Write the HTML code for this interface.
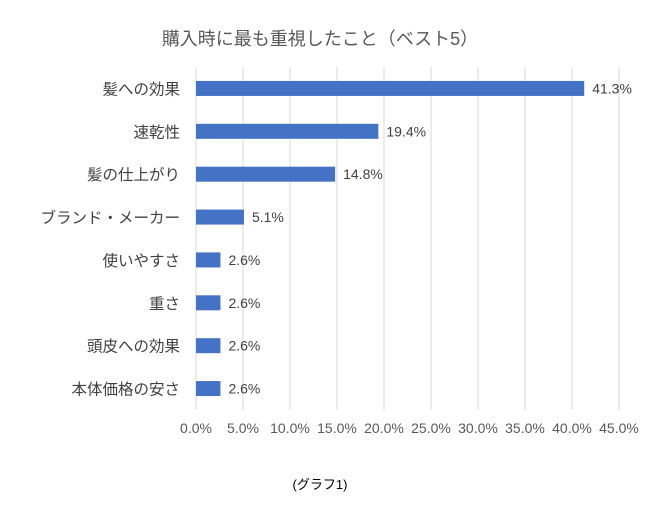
<!DOCTYPE html>
<html><head><meta charset="utf-8"><style>
body{margin:0;background:#fff;}
svg text{font-family:"Liberation Sans","Noto Sans CJK JP",sans-serif;}
</style></head><body>
<svg id="chart" width="650" height="503" xmlns="http://www.w3.org/2000/svg">
<rect width="650" height="503" fill="#fff"/>
<text x="320" y="45" text-anchor="middle" font-size="18" fill="#595959">購入時に最も重視したこと（ベスト5）</text>
<g id="grid"></g><g id="bars"></g><g id="cats"></g><g id="xticks"></g>
<text x="320" y="489" text-anchor="middle" font-size="13" fill="#000">(グラフ1)</text>
</svg>
<script>
const categories=["髪への効果","速乾性","髪の仕上がり","ブランド・メーカー","使いやすさ","重さ","頭皮への効果","本体価格の安さ"];
const values=[41.3,19.4,14.8,5.1,2.6,2.6,2.6,2.6];
const valueLabels=["41.3%","19.4%","14.8%","5.1%","2.6%","2.6%","2.6%","2.6%"];
const ticks=[0,5,10,15,20,25,30,35,40,45];
const tickLabels=["0.0%","5.0%","10.0%","15.0%","20.0%","25.0%","30.0%","35.0%","40.0%","45.0%"];
const NS="http://www.w3.org/2000/svg";
const x0=196,x1=619,yTop=67,yBot=410;
const xs=v=>x0+(v-ticks[0])/(ticks[ticks.length-1]-ticks[0])*(x1-x0);
const band=(yBot-yTop)/categories.length;
const yc=i=>yTop+band*(i+0.5);
function mk(tag,attrs,parent){const e=document.createElementNS(NS,tag);for(const k in attrs)e.setAttribute(k,attrs[k]);document.getElementById(parent).appendChild(e);return e;}
ticks.forEach((t,i)=>{
  const l=mk('line',{x1:xs(t),x2:xs(t),y1:yTop,y2:yBot,stroke:'#d9d9d9','stroke-width':1},'grid');
  
  
  const tx=mk('text',{x:xs(t),y:433,'text-anchor':'middle','font-size':14,fill:'#595959'},'xticks');
  tx.textContent=tickLabels[i];
  
  
});
categories.forEach((c,i)=>{
  const y=yc(i);
  const r=mk('rect',{x:xs(0),y:y-7.5,width:xs(values[i])-xs(0),height:15,fill:'#4472c4'},'bars');
  
  
  const vl=mk('text',{x:xs(values[i])+8,y:y+5,'font-size':14,fill:'#404040'},'bars');
  vl.textContent=valueLabels[i];
  
  
  const cl=mk('text',{x:180,y:y+6,'text-anchor':'end','font-size':15.5,fill:'#404040'},'cats');
  cl.textContent=c;
  
  
});
</script>
</body></html>
